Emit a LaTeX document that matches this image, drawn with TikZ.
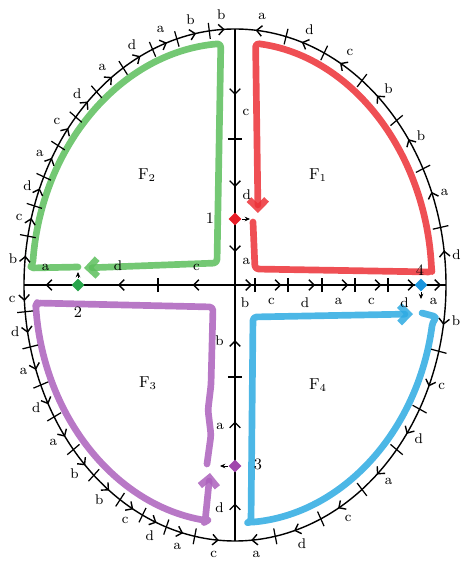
\documentclass[tikz,border=0pt]{standalone}
\usepackage{tikz}
\usetikzlibrary{arrows.meta, decorations.markings, shapes.geometric}

\definecolor{crgreen}{RGB}{92,190,92}
\definecolor{crred}{RGB}{236,48,54}
\definecolor{crblue}{RGB}{45,170,226}
\definecolor{crpurple}{RGB}{172,96,188}
\definecolor{ptred}{RGB}{232,30,40}
\definecolor{ptgreen}{RGB}{40,165,75}
\definecolor{ptblue}{RGB}{28,150,222}
\definecolor{ptpurple}{RGB}{160,70,172}

\begin{document}
\begin{tikzpicture}[
    x=0.02cm, y=0.02cm,
    >={Straight Barb[length=3pt, width=6pt]},
    line width=0.8pt,
    seg/.style={postaction={decorate}, decoration={markings,
        mark=at position #1 with {\arrow{>}}}},
    seg/.default=0.6,
    tk/.style={line width=0.7pt},
    lbl/.style={font=\footnotesize, inner sep=0pt},
    num/.style={font=\small, inner sep=0pt},
    face/.style={font=\small},
    vtx/.style={diamond, inner sep=0pt, minimum size=7.5pt},
    ptarr/.style={-{Stealth[length=3pt, width=2.6pt]}, line width=0.5pt},
    crayon/.style={line width=3.8pt, opacity=0.85, line cap=round,
        line join=round, rounded corners=2pt},
    crarr/.style={crayon, -{Straight Barb[length=5pt, width=10pt]}}
  ]
  \useasboundingbox (-235,-276) rectangle (227,285);

  % Crayon face boundaries
  \draw[crarr, crgreen] (-157,18) -- (-205,17) -- (175:203 and 242)
    arc[start angle=175, end angle=94, x radius=203, y radius=242]
    -- (-18,22) -- (-151,17);
  \draw[crarr, crred] (18,63) -- (20,16) -- (197,13) -- (4:197 and 243)
    arc[start angle=4, end angle=84, x radius=197, y radius=243]
    -- (23,72);
  \draw[crarr, crblue] (187,-28) -- (202,-32) -- (-9:200 and 238)
    arc[start angle=-9, end angle=-86, x radius=200, y radius=238]
    -- (16,-237) -- (18,-32) -- (178,-29);
  \draw[crarr, crpurple] (-28,-179) -- (-24,-150) -- (-27,-125) -- (-24,-100)
    -- (-22,-22) -- (-198,-18) -- (185:200 and 238)
    arc[start angle=185, end angle=262, x radius=200, y radius=238]
    -- (-30,-237) -- (-25,-188);

  % Axis points
  \coordinate (O) at (0,0);
  \coordinate (top) at (0,256);
  \coordinate (bot) at (0,-256);
  \coordinate (lft) at (-211,0);
  \coordinate (rgt) at (211,0);
  \coordinate (vt) at (0,146);
  \coordinate (vb) at (0,-92);
  \coordinate (ht) at (-77,0);
  \coordinate (P1) at (0,66);
  \coordinate (P2) at (-157,0);
  \coordinate (P3) at (0,-181);
  \coordinate (P4) at (186,0);
  \foreach \x [count=\i] in {20,53,87,120,153} \coordinate (r\i) at (\x,0);

  % Outer ellipse, quarter by quarter
  \foreach \ta/\tb/\lab in {180/169/b, 169/162/c, 162/155/d, 155/147/a,
      147/139/c, 139/131/d, 131/122/a, 122/113/d, 113/106/a, 106/97/b, 97/90/b,
      0/13/d, 13/27/a, 27/40/b, 40/53/b, 53/65/c, 65/76/d, 76/90/a,
      180/186/c, 186/194/d, 194/203/a, 203/211/d, 211/220/a, 220/228/b,
      228/237/b, 237/244/c, 244/251/d, 251/259/a, 259/270/c,
      360/345/b, 345/331/c, 331/320/d, 320/307/a, 307/294/c, 294/281/d,
      281/270/a}{
    \draw[seg] (\ta:211 and 256)
      arc[start angle=\ta, end angle=\tb, x radius=211, y radius=256];
    \node[lbl] at ({(\ta+\tb)/2}:223 and 271) {\lab};
  }
  \foreach \t in {169,162,155,147,139,131,122,113,106,97, 13,27,40,53,65,76,
      186,194,203,211,220,228,237,244,251,259, 345,331,320,307,294,281}
    \draw[tk] (\t:203 and 248) -- (\t:219 and 264);

  % Upper axis (downwards)
  \draw[seg] (top) -- node[lbl, right=4pt, pos=0.76] {c} (vt);
  \draw[seg] (vt) -- node[lbl, right=4pt, pos=0.7] {d} (P1);
  \draw[seg=0.5] (P1) -- node[lbl, right=4pt, pos=0.65] {a} (O);

  % Lower axis (upwards)
  \draw[seg=0.5] (bot) -- node[lbl, left=6pt, pos=0.45] {d} (P3);
  \draw[seg=0.5] (P3) -- node[lbl, left=6pt, pos=0.45] {a} (vb);
  \draw[seg=0.4] (vb) -- node[lbl, left=6pt, pos=0.4] {b} (O);

  % Left axis (leftwards)
  \draw[seg=0.55] (O) -- node[lbl, above=8pt] {c} (ht);
  \draw[seg=0.5] (ht) -- node[lbl, above=8pt] {d} (P2);
  \draw[seg=0.6] (P2) -- node[lbl, above=8pt, pos=0.6] {a} (lft);

  % Right axis (rightwards)
  \draw[seg=0.85] (O) -- node[lbl, below=7pt] {b} (r1);
  \foreach \sa/\sb/\lab in {r1/r2/c, r2/r3/d, r3/r4/a, r4/r5/c, r5/P4/d, P4/rgt/a}
    \draw[seg=0.8] (\sa) -- node[lbl, below=7pt] {\lab} (\sb);

  % Ticks on the axes
  \foreach \c in {vt, vb} \draw[tk] ([xshift=-4pt]\c) -- ([xshift=4pt]\c);
  \foreach \c in {ht, r1, r2, r3, r4, r5}
    \draw[tk] ([yshift=-4pt]\c) -- ([yshift=4pt]\c);

  % Vertices
  \node[vtx, fill=ptred] (p1) at (P1) {};
  \node[vtx, fill=ptgreen] (p2) at (P2) {};
  \node[vtx, fill=ptpurple] (p3) at (P3) {};
  \node[vtx, fill=ptblue] (p4) at (P4) {};
  \coordinate (e1) at (15,66);
  \coordinate (e2) at (-157,13);
  \coordinate (e3) at (-15,-181);
  \coordinate (e4) at (186,-14);
  \draw[ptarr] (p1) -- (e1);
  \draw[ptarr] (p2) -- (e2);
  \draw[ptarr] (p3) -- (e3);
  \draw[ptarr] (p4) -- (e4);
  \node[num] (n1) at (-25,67) {1};
  \node[num] (n2) at (-157,-27) {2};
  \node[num] (n3) at (23,-179) {3};
  \node[num] (n4) at (185,15) {4};

  % Faces
  \node[face] (f1) at (83,110) {F\textsubscript{1}};
  \node[face] (f2) at (-88,110) {F\textsubscript{2}};
  \node[face] (f3) at (-87,-98) {F\textsubscript{3}};
  \node[face] (f4) at (83,-100) {F\textsubscript{4}};
\end{tikzpicture}
\end{document}
